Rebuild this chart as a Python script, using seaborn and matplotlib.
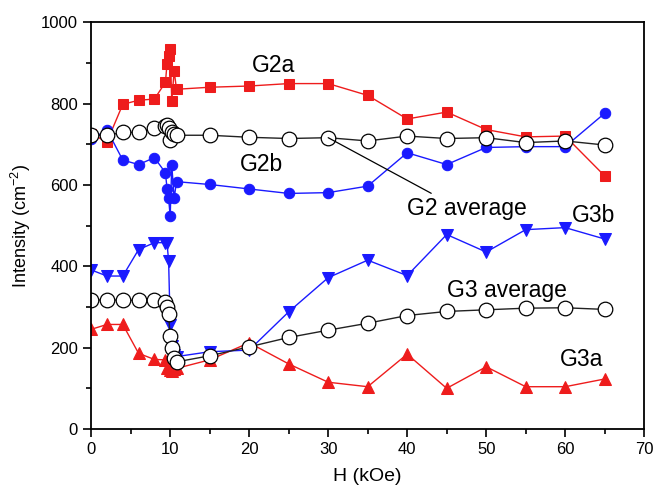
import matplotlib
matplotlib.use("Agg")
import matplotlib.pyplot as plt
from matplotlib.ticker import MultipleLocator
import seaborn as sns
import pandas as pd

H = [0, 2, 4, 6, 8, 9.4, 9.6, 9.8, 10.0, 10.2, 10.5, 10.8, 15, 20, 25, 30, 35, 40, 45, 50, 55, 60, 65]
G2a = [725, 706, 798, 808, 811, 852, 898, 916, 935, 806, 880, 835, 840, 843, 849, 849, 820, 762, 779, 736, 718, 720, 622]
G2b = [712, 735, 661, 650, 667, 630, 591, 567, 523, 649, 567, 608, 601, 590, 579, 581, 597, 679, 650, 692, 694, 694, 776]
G2avg = [722, 722, 729, 729, 740, 744, 748, 741, 710, 730, 724, 722, 722, 717, 714, 716, 708, 720, 714, 716, 704, 708, 698]
G3b = [391, 376, 376, 441, 458, 458, 456, 414, 255, 205, 182, 178, 190, 194, 288, 372, 415, 377, 478, 435, 490, 495, 467]
G3a = [245, 257, 257, 186, 171, 170, 149, 151, 145, 143, 148, 149, 170, 212, 160, 115, 104, 184, 100, 153, 104, 104, 123]
G3avg = [317, 317, 317, 316, 316, 313, 300, 282, 228, 200, 175, 165, 180, 202, 225, 243, 260, 279, 289, 293, 297, 298, 294]

df = pd.DataFrame({"H": H, "G2a": G2a, "G2b": G2b, "G2avg": G2avg,
                   "G3a": G3a, "G3b": G3b, "G3avg": G3avg})

sns.set_theme(style="ticks")
plt.rcParams['font.family'] = ['Liberation Sans', 'DejaVu Sans']
plt.rcParams['mathtext.fontset'] = 'custom'
plt.rcParams['mathtext.rm'] = 'Liberation Sans'
plt.rcParams['text.color'] = 'black'
plt.rcParams['axes.labelcolor'] = 'black'
plt.rcParams['xtick.color'] = 'black'
plt.rcParams['ytick.color'] = 'black'

fig = plt.figure(figsize=(6.56, 4.92), dpi=100)
ax = fig.add_axes([0.139, 0.128, 0.843, 0.827])

red = "#ee1c1c"
blue = "#1a1aff"
common = dict(sort=False, estimator=None, linewidth=1.0, ax=ax, legend=False)

sns.lineplot(data=df, x="H", y="G2a", color=red, marker="s", markersize=6.5,
             markeredgecolor=red, **common)
sns.lineplot(data=df, x="H", y="G2b", color=blue, marker="o", markersize=7.5,
             markeredgecolor=blue, **common)
sns.lineplot(data=df, x="H", y="G3a", color=red, marker="^", markersize=8,
             markeredgecolor=red, **common)
sns.lineplot(data=df, x="H", y="G3b", color=blue, marker="v", markersize=8,
             markeredgecolor=blue, **common)
sns.lineplot(data=df, x="H", y="G2avg", color="#222222", marker="o", markersize=10.5,
             markerfacecolor="white", markeredgecolor="black", markeredgewidth=0.9, **common)
sns.lineplot(data=df, x="H", y="G3avg", color="#222222", marker="o", markersize=10.5,
             markerfacecolor="white", markeredgecolor="black", markeredgewidth=0.9, **common)

ax.set_xlim(0, 70)
ax.set_ylim(0, 1000)
ax.xaxis.set_major_locator(MultipleLocator(10))
ax.xaxis.set_minor_locator(MultipleLocator(5))
ax.yaxis.set_major_locator(MultipleLocator(200))
ax.yaxis.set_minor_locator(MultipleLocator(100))
ax.tick_params(which="major", direction="out", length=6, width=1.2, labelsize=12,
               top=False, right=False, colors="black")
ax.tick_params(which="minor", direction="out", length=3.5, width=1.2,
               top=False, right=False)
for s in ax.spines.values():
    s.set_linewidth(1.3)
    s.set_color("black")

ax.set_xlabel("H (kOe)", fontsize=14, labelpad=8)
ax.set_ylabel("Intensity (cm$^{-2}$)", fontsize=13, labelpad=6)

tk = dict(fontsize=16.5, ha="center", va="center")
ax.text(23.1, 894, "G2a", **tk)
ax.text(21.5, 651, "G2b", **tk)
ax.text(63.6, 526, "G3b", **tk)
ax.text(52.6, 341, "G3 average", **tk)
ax.text(62.1, 170, "G3a", **tk)
ax.annotate("G2 average", xy=(30, 716), xytext=(47.6, 543),
            fontsize=16.5, ha="center", va="center",
            arrowprops=dict(arrowstyle="-", color="black", lw=0.9,
                            shrinkA=0, shrinkB=0, relpos=(0.25, 1.0)))

fig.savefig("out.png", dpi=100)
